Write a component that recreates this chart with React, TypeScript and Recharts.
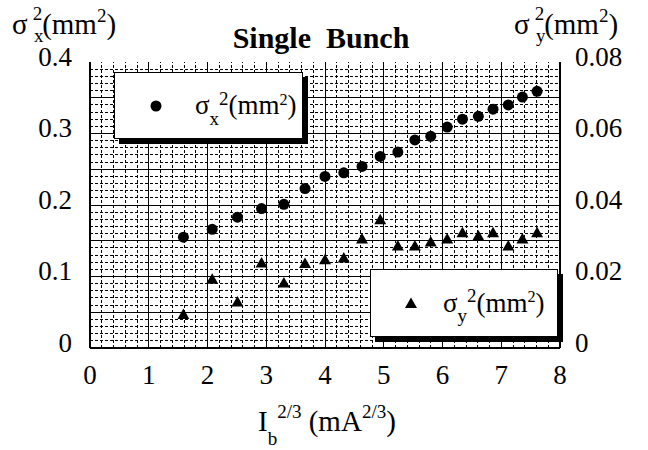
import { ScatterChart, Scatter, XAxis, YAxis, ReferenceLine } from 'recharts';

const FONT = '"Liberation Serif", serif';

// I_b^(2/3) in mA^(2/3)
const current = [1.59, 2.08, 2.51, 2.92, 3.30, 3.66, 4.00, 4.32, 4.63, 4.94, 5.24, 5.53, 5.80, 6.08, 6.34, 6.61, 6.86, 7.12, 7.36, 7.61];
// sigma_x^2 (mm^2), left axis
const sigmaX2 = [0.155, 0.166, 0.183, 0.195, 0.201, 0.223, 0.240, 0.245, 0.254, 0.268, 0.274, 0.291, 0.296, 0.309, 0.320, 0.324, 0.334, 0.340, 0.351, 0.359];
// sigma_y^2 (mm^2), right axis
const sigmaY2 = [0.0095, 0.0194, 0.0130, 0.0239, 0.0183, 0.0238, 0.0248, 0.0253, 0.0306, 0.0360, 0.0287, 0.0287, 0.0298, 0.0306, 0.0324, 0.0315, 0.0324, 0.0287, 0.0306, 0.0324];

const xTicks = [0, 1, 2, 3, 4, 5, 6, 7, 8];
const leftTicks = [0, 0.1, 0.2, 0.3, 0.4];
const rightTicks = [0, 0.02, 0.04, 0.06, 0.08];
const leftMajorGrid = [0.05, 0.1, 0.15, 0.2, 0.25, 0.3, 0.35];

// grid helpers (not data)
const steps = (max: number, step: number) =>
  Array.from({ length: Math.round(max / step) + 1 }, (_, i) => +(i * step).toFixed(4));
const xMinorGrid = steps(8, 0.2).filter((v) => Math.abs(v - Math.round(v)) > 1e-6);
const leftMinorGrid = steps(0.4, 0.01).filter((v) => Math.abs(v / 0.05 - Math.round(v / 0.05)) > 1e-6);
const xEdgeTicks = steps(8, 0.1);

const xData = current.map((x, i) => ({ x, y: sigmaX2[i] }));
const yData = current.map((x, i) => ({ x, y: sigmaY2[i] }));

const Dot = (p: any) => <circle cx={p.cx} cy={p.cy} r={5.5} fill="#000" />;
const Tri = (p: any) => (
  <polygon points={`${p.cx},${p.cy - 5.5} ${p.cx + 6},${p.cy + 5} ${p.cx - 6},${p.cy + 5}`} fill="#000" />
);
const NoLabel = () => <g />;

const tickStyle = { fontFamily: FONT, fontSize: 27, fill: '#000' };

// legend text: sigma, subscript, then superscript
function Sigma({ sub, size = 27 }: { sub: string; size?: number }) {
  return (
    <span style={{ fontFamily: FONT, fontSize: size, whiteSpace: 'nowrap', color: '#000' }}>
      σ
      <span style={{ fontSize: size * 0.7, position: 'relative', top: size * 0.4 }}>{sub}</span>
      <span style={{ fontSize: size * 0.7, position: 'relative', top: -size * 0.35 }}>2</span>
      (mm<span style={{ fontSize: size * 0.6, position: 'relative', top: -size * 0.35 }}>2</span>)
    </span>
  );
}

// axis title: subscript stacked under the superscript
function AxisTitle({ sub, left }: { sub: string; left: number }) {
  return (
    <div
      style={{
        position: 'absolute',
        left,
        top: 8,
        fontFamily: FONT,
        fontSize: 29,
        whiteSpace: 'nowrap',
        color: '#000',
      }}
    >
      σ
      <span style={{ fontSize: 19, position: 'relative', top: -14, marginLeft: 5 }}>2</span>
      <span style={{ fontSize: 19, position: 'absolute', left: 22, top: 17 }}>{sub}</span>
      (mm<span style={{ fontSize: 19, position: 'relative', top: -12 }}>2</span>)
    </div>
  );
}

const boxStyle: React.CSSProperties = {
  position: 'absolute',
  background: '#fff',
  border: '1.5px solid #000',
  boxShadow: '5px 5px 0 #000',
  boxSizing: 'border-box',
  display: 'flex',
  alignItems: 'center',
};

export default function App() {
  return (
    <div style={{ position: 'absolute', left: 0, top: 0, width: 648, height: 450, background: '#fff' }}>
      <ScatterChart width={648} height={450} margin={{ top: 62, right: 0, bottom: 0, left: 0 }}>
        <XAxis
          type="number"
          dataKey="x"
          domain={[0, 8]}
          ticks={xTicks}
          height={102}
          tickLine={false}
          tickSize={0}
          tickMargin={17}
          axisLine={{ stroke: '#000', strokeWidth: 2 }}
          tick={tickStyle}
        />
        <XAxis
          xAxisId="top"
          type="number"
          orientation="top"
          mirror
          height={0}
          domain={[0, 8]}
          ticks={xEdgeTicks}
          tick={NoLabel}
          tickSize={5}
          tickLine={{ stroke: '#000' }}
          axisLine={{ stroke: '#000', strokeWidth: 2 }}
        />
        <XAxis
          xAxisId="bottom"
          type="number"
          mirror
          height={0}
          domain={[0, 8]}
          ticks={xEdgeTicks}
          tick={NoLabel}
          tickSize={5}
          tickLine={{ stroke: '#000' }}
          axisLine={false}
        />
        <YAxis
          yAxisId="left"
          type="number"
          domain={[0, 0.4]}
          ticks={leftTicks}
          width={90}
          tickLine={false}
          tickSize={0}
          tickMargin={18}
          axisLine={{ stroke: '#000', strokeWidth: 2 }}
          tick={{ ...tickStyle, dy: -6 }}
        />
        <YAxis
          yAxisId="right"
          orientation="right"
          type="number"
          domain={[0, 0.08]}
          ticks={rightTicks}
          width={88}
          tickLine={false}
          tickSize={0}
          tickMargin={15}
          axisLine={{ stroke: '#000', strokeWidth: 2 }}
          tick={{ ...tickStyle, dy: -6 }}
        />
        {xMinorGrid.map((v) => (
          <ReferenceLine
            key={`vx${v}`}
            x={v}
            yAxisId="left"
            stroke="#000"
            strokeDasharray="3 2"
            shapeRendering="crispEdges"
          />
        ))}
        {leftMinorGrid.map((v) => (
          <ReferenceLine
            key={`hy${v}`}
            y={v}
            yAxisId="left"
            stroke="#000"
            strokeDasharray="3 2"
            shapeRendering="crispEdges"
          />
        ))}
        {xTicks.slice(1, -1).map((v) => (
          <ReferenceLine key={`VX${v}`} x={v} yAxisId="left" stroke="#000" shapeRendering="crispEdges" />
        ))}
        {leftMajorGrid.map((v) => (
          <ReferenceLine key={`HY${v}`} y={v} yAxisId="left" stroke="#000" shapeRendering="crispEdges" />
        ))}
        <Scatter yAxisId="left" data={xData} dataKey="y" shape={Dot} isAnimationActive={false} />
        <Scatter yAxisId="right" data={yData} dataKey="y" shape={Tri} isAnimationActive={false} />
      </ScatterChart>

      <AxisTitle sub="x" left={12} />
      <AxisTitle sub="y" left={514} />
      <div
        style={{
          position: 'absolute',
          left: 0,
          width: 642,
          top: 21,
          textAlign: 'center',
          fontFamily: FONT,
          fontWeight: 'bold',
          fontSize: 30,
          whiteSpace: 'pre',
        }}
      >
        {'Single  Bunch'}
      </div>

      <div style={{ ...boxStyle, left: 114, top: 72, width: 189, height: 67 }}>
        <svg width={80} height={30}>
          <circle cx={41} cy={15} r={5.5} fill="#000" />
        </svg>
        <Sigma sub="x" />
      </div>
      <div style={{ ...boxStyle, left: 370, top: 269, width: 188, height: 68 }}>
        <svg width={72} height={30}>
          <polygon points="40,9.5 46,20 34,20" fill="#000" />
        </svg>
        <Sigma sub="y" />
      </div>

      <div
        style={{
          position: 'absolute',
          left: 258,
          top: 405,
          fontFamily: FONT,
          fontSize: 29,
          whiteSpace: 'nowrap',
        }}
      >
        I<span style={{ fontSize: 19, position: 'relative', top: 14 }}>b</span>
        <span style={{ fontSize: 19, position: 'relative', top: -13 }}>2/3</span> (mA
        <span style={{ fontSize: 19, position: 'relative', top: -13 }}>2/3</span>)
      </div>
    </div>
  );
}
